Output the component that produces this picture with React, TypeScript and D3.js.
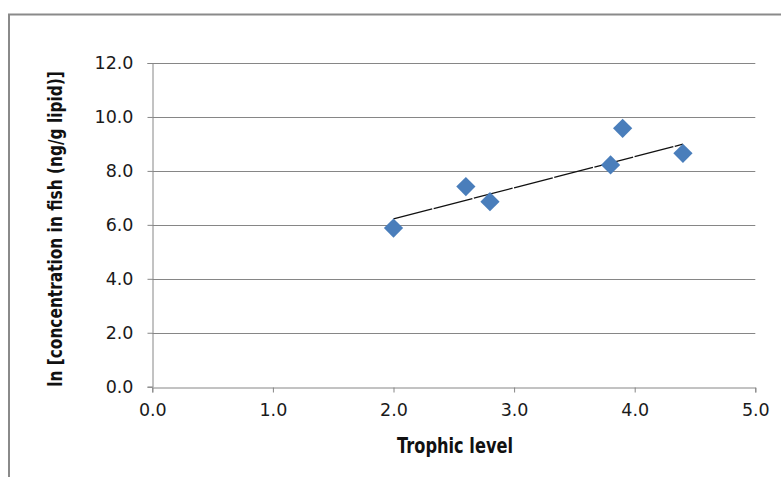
import React, { useEffect, useRef } from "react";
import * as d3 from "d3";

// Data
const trophicLevel = [2.0, 2.6, 2.8, 3.8, 3.9, 4.4];
const lnConcentration = [5.88, 7.42, 6.86, 8.22, 9.58, 8.65];

// Trend line as drawn in the picture (end points)
const trendX = [2.0, 4.4];
const trendY = [6.22, 8.99];

const xTicks = [0, 1, 2, 3, 4, 5];
const yTicks = [0, 2, 4, 6, 8, 10, 12];

const W = 781;
const H = 477;

const App = () => {
  const ref = useRef<SVGSVGElement>(null);

  useEffect(() => {
    const svg = d3.select(ref.current);
    svg.selectAll("*").remove();

    const x = d3.scaleLinear().domain([0, 5]).range([152.3, 755.3]);
    const y = d3.scaleLinear().domain([0, 12]).range([386.7, 63]);

    // outer chart frame (runs off the right and bottom edge)
    svg
      .append("rect")
      .attr("x", 9)
      .attr("y", 14.5)
      .attr("width", 900)
      .attr("height", 600)
      .attr("fill", "#fff")
      .attr("stroke", "#8a8a8a")
      .attr("stroke-width", 2);

    // horizontal gridlines
    svg
      .append("g")
      .selectAll("line")
      .data(yTicks.filter((d) => d > 0))
      .enter()
      .append("line")
      .attr("x1", x(0))
      .attr("x2", x(5))
      .attr("y1", (d) => Math.round(y(d)) + 0.5)
      .attr("y2", (d) => Math.round(y(d)) + 0.5)
      .attr("stroke", "#868686")
      .attr("stroke-width", 1);

    // y axis
    const yAxis = svg
      .append("g")
      .attr("transform", `translate(${Math.round(x(0)) + 0.5},0)`)
      .call(
        d3
          .axisLeft(y)
          .tickValues(yTicks)
          .tickSize(5)
          .tickPadding(14)
          .tickFormat(d3.format(".1f"))
      );

    // x axis
    const xAxis = svg
      .append("g")
      .attr("transform", `translate(0,${Math.round(y(0)) + 0.5})`)
      .call(
        d3
          .axisBottom(x)
          .tickValues(xTicks)
          .tickSize(5)
          .tickPadding(11)
          .tickFormat(d3.format(".1f"))
      );

    [yAxis, xAxis].forEach((g) => {
      g.select(".domain").attr("stroke", "#868686");
      g.selectAll(".tick line").attr("stroke", "#868686");
      g.selectAll(".tick text")
        .attr("fill", "#1a1a1a")
        .attr("font-family", "DejaVu Sans")
        .attr("font-size", 17.5);
    });

    // trend line
    svg
      .append("path")
      .datum(trendX.map((d, i) => [d, trendY[i]]))
      .attr(
        "d",
        d3
          .line()
          .x((d) => x(d[0]))
          .y((d) => y(d[1]))
      )
      .attr("fill", "none")
      .attr("stroke", "#111")
      .attr("stroke-width", 1.3)
      .attr("stroke-dasharray", "40,1.5");

    // diamond markers
    const diamond = d3.symbol().type(d3.symbolSquare).size(185);
    svg
      .append("g")
      .selectAll("path")
      .data(trophicLevel.map((d, i) => [d, lnConcentration[i]]))
      .enter()
      .append("path")
      .attr("d", diamond)
      .attr(
        "transform",
        (d) => `translate(${x(d[0])},${y(d[1])}) rotate(45)`
      )
      .attr("fill", "#4a7ebb");

    // axis titles, squeezed horizontally to the narrow look of the original
    const title = (label, size, len, tx, ty, rot) => {
      const t = svg
        .append("text")
        .attr("text-anchor", "middle")
        .attr("font-family", "DejaVu Sans")
        .attr("font-weight", "bold")
        .attr("font-size", size)
        .attr("fill", "#111")
        .text(label);
      const natural = (t.node() as SVGTextElement).getComputedTextLength();
      t.attr(
        "transform",
        `translate(${tx},${ty}) rotate(${rot}) scale(${len / natural},1)`
      );
    };
    title("Trophic level", 20.5, 116, 455, 453, 0);
    title("ln [concentration in fish (ng/g lipid)]", 20, 316, 62, 229, -90);
  }, []);

  return (
    <div style={{ position: "absolute", left: 0, top: 0 }}>
      <svg ref={ref} width={W} height={H} style={{ display: "block" }}></svg>
    </div>
  );
};

export default App;
